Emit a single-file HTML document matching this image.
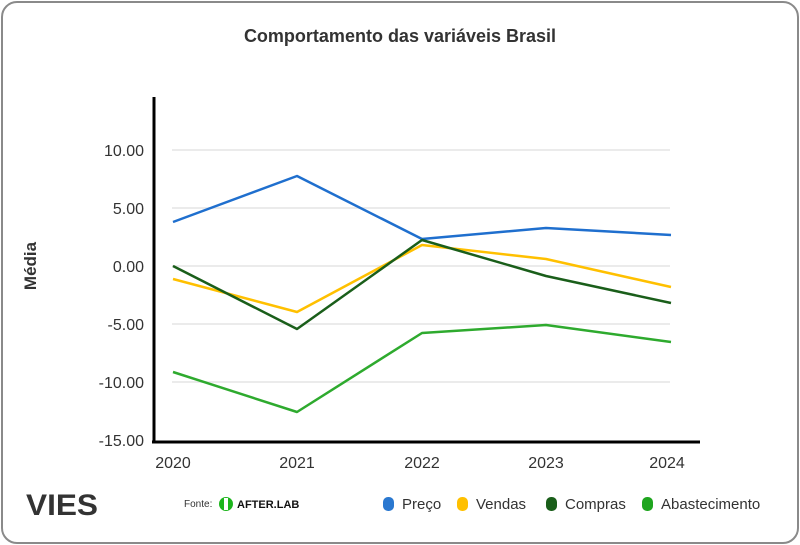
<!DOCTYPE html>
<html><head><meta charset="utf-8"><style>
body{margin:0;background:#fff;width:800px;height:545px;overflow:hidden;font-family:"Liberation Sans",sans-serif}
.frame{position:absolute;left:1px;top:1px;width:794px;height:539px;border:2px solid #8a8a8a;border-radius:16px;box-sizing:content-box}
</style></head><body>
<div class="frame"></div>
<svg width="800" height="545" style="position:absolute;left:0;top:0" font-family="Liberation Sans, sans-serif">
<text x="400" y="42" text-anchor="middle" font-size="18" font-weight="bold" fill="#333">Comportamento das variáveis Brasil</text>
<text transform="translate(36,266) rotate(-90)" text-anchor="middle" font-size="17" font-weight="bold" fill="#333">Média</text>
<g stroke="#ebebeb" stroke-width="2">
<line x1="172" x2="670" y1="150" y2="150"/><line x1="172" x2="670" y1="208" y2="208"/>
<line x1="172" x2="670" y1="266" y2="266"/><line x1="172" x2="670" y1="324" y2="324"/>
<line x1="172" x2="670" y1="382" y2="382"/></g>
<g font-size="16" fill="#333" text-anchor="end">
<text x="144" y="156">10.00</text><text x="144" y="214">5.00</text><text x="144" y="272">0.00</text>
<text x="144" y="330">-5.00</text><text x="144" y="388">-10.00</text><text x="144" y="446">-15.00</text></g>
<g font-size="16" fill="#333" text-anchor="middle">
<text x="173" y="468">2020</text><text x="297" y="468">2021</text><text x="422" y="468">2022</text>
<text x="546" y="468">2023</text><text x="667" y="468">2024</text></g>
<line x1="154" y1="97" x2="154" y2="443" stroke="#000" stroke-width="3"/>
<line x1="152" y1="442" x2="700" y2="442" stroke="#000" stroke-width="3"/>
<g fill="none" stroke-width="2.5" stroke-linejoin="round">
<polyline stroke="#1f6fce" points="173,222 297,176 422,239 546,228 671,235"/>
<polyline stroke="#ffc000" points="173,279 297,312 422,245 546,259 671,287"/>
<polyline stroke="#1a5e1a" points="173,266 297,329 422,240 546,276 671,303"/>
<polyline stroke="#2eaa2e" points="173,372 297,412 422,333 546,325 671,342"/>
</g>
<text x="26" y="515" font-size="30" font-weight="bold" fill="#333" textLength="72" lengthAdjust="spacingAndGlyphs">VIES</text>
<text x="184" y="507" font-size="10" fill="#333">Fonte:</text>
<circle cx="226" cy="504" r="7" fill="#1db51d"/><rect x="224" y="498" width="4" height="12" fill="#fff"/>
<text x="237" y="508" font-size="11" font-weight="bold" fill="#111">AFTER.LAB</text>
<g font-size="15" fill="#333">
<rect x="383" y="497" width="11" height="14" rx="5" fill="#2a78d0"/><text x="402" y="509">Preço</text>
<rect x="457" y="497" width="11" height="14" rx="5" fill="#ffc000"/><text x="476" y="509">Vendas</text>
<rect x="546" y="497" width="11" height="14" rx="5" fill="#1a5e1a"/><text x="565" y="509">Compras</text>
<rect x="642" y="497" width="11" height="14" rx="5" fill="#1fa51f"/><text x="661" y="509">Abastecimento</text>
</g>
</svg>
</body></html>
